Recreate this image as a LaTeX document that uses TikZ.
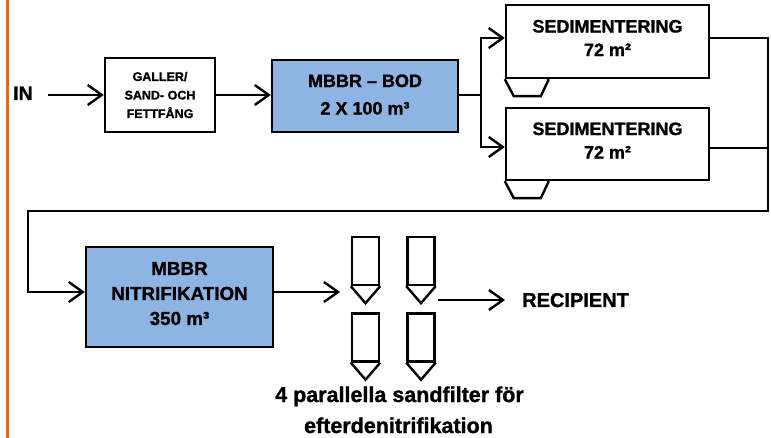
\documentclass[tikz,border=0pt]{standalone}
\usepackage{fontspec}
\setmainfont{Liberation Sans}[BoldFeatures={FakeBold=1.2}]
\usetikzlibrary{arrows.meta,calc}
\definecolor{boxblue}{RGB}{142,180,227}
\definecolor{orangeline}{RGB}{228,108,10}
\begin{document}
\begin{tikzpicture}[x=1pt,y=-1pt, line width=2.4pt,
  arr/.style={-{Straight Barb[length=14pt,width=20pt,line width=2.4pt]}},
  box/.style={draw, line width=2.4pt, rectangle, inner sep=0pt, align=center},
  bigtxt/.style={font=\fontsize{18}{23.5}\selectfont\bfseries},
  lbl/.style={inner sep=0pt, font=\fontsize{19.5}{26}\selectfont\bfseries},
  filt/.style={draw, line width=2.4pt, rectangle, inner sep=0pt, minimum width=27pt, minimum height=48pt},
]
\useasboundingbox (0,0) rectangle (771,438);
% orange margin line
\draw[orangeline, line width=3pt] (7.5,0) -- (7.5,438);

% nodes
\node[lbl, anchor=base west] (in) at (12,100) {IN};
\node[box, minimum width=110pt, minimum height=74pt, font=\fontsize{12.5}{18.5}\selectfont\bfseries] (gal) at (160,95) {GALLER/\\SAND- OCH\\FETTFÅNG};
\node[box, fill=boxblue, minimum width=186pt, minimum height=72pt, text depth=3pt, font=\fontsize{18}{27.5}\selectfont\bfseries] (bod) at (365,96) {MBBR – BOD\\2 X 100 m³};
\node[box, minimum width=203pt, minimum height=73pt, text depth=7pt, bigtxt] (sed1) at (607.5,41.5) {SEDIMENTERING\\72 m²};
\node[box, minimum width=203pt, minimum height=72pt, text depth=7pt, bigtxt] (sed2) at (607.5,144) {SEDIMENTERING\\72 m²};
\node[box, fill=boxblue, minimum width=187pt, minimum height=100pt, text depth=7pt, font=\fontsize{18.8}{25}\selectfont\bfseries] (nit) at (179.5,297) {MBBR\\NITRIFIKATION\\350 m³};

% sludge hoppers
\draw[line join=miter] (sed1.south west) -- ++(9,17) -- ++(27,0) -- ++(8,-17);
\draw[line join=miter] (sed2.south west) -- ++(9,17) -- ++(27,0) -- ++(8,-17);

% sand filters
\node[filt] (f1) at (365.5,261) {};
\node[filt] (f2) at (421,261) {};
\node[filt] (f3) at (365.5,337.5) {};
\node[filt] (f4) at (421,337.5) {};
\foreach \f in {f1,f2,f3,f4}{
  \draw[line join=miter] (\f.south west) -- ($(\f.south)+(0,17)$) -- (\f.south east);
}

\node[lbl, anchor=base west, font=\fontsize{20}{26}\selectfont\bfseries] (rec) at (521,307) {RECIPIENT};
\node[lbl, anchor=base, font=\fontsize{21.5}{30}\selectfont\bfseries] (cap1) at (399.5,402) {4 parallella sandfilter för};
\node[lbl, anchor=base, font=\fontsize{21.5}{30}\selectfont\bfseries] (cap2) at (398.5,433) {efterdenitrifikation};

% coordinates
\coordinate (br) at (481,95);
\coordinate (c1) at (768,211);
\coordinate (c2) at (28,211);
\coordinate (s2o) at (768,148);
\coordinate (fin) at (340,292);
\coordinate (fout) at (438,300);

% connectors
\draw[arr] ([xshift=14pt]in.east |- 0,95) -- (gal.west);
\draw[arr] (gal.east) -- (gal.east -| bod.west);
\draw (br -| bod.east) -- (br);
\draw[arr] (br) |- ([yshift=3.5pt]sed1.west);
\draw[arr] (br) |- ([yshift=-3pt]sed2.west);
\draw[arr, line join=miter] ([yshift=3.5pt]sed1.east) -| (c1) -- (c2) |- ([yshift=5pt]nit.west);
\draw ([yshift=-4pt]sed2.east) -- (s2o);
\draw[arr] ([yshift=5pt]nit.east) -- (fin);
\draw[arr] (fout) -- ([xshift=-16pt]rec.west |- fout);
\end{tikzpicture}
\end{document}
